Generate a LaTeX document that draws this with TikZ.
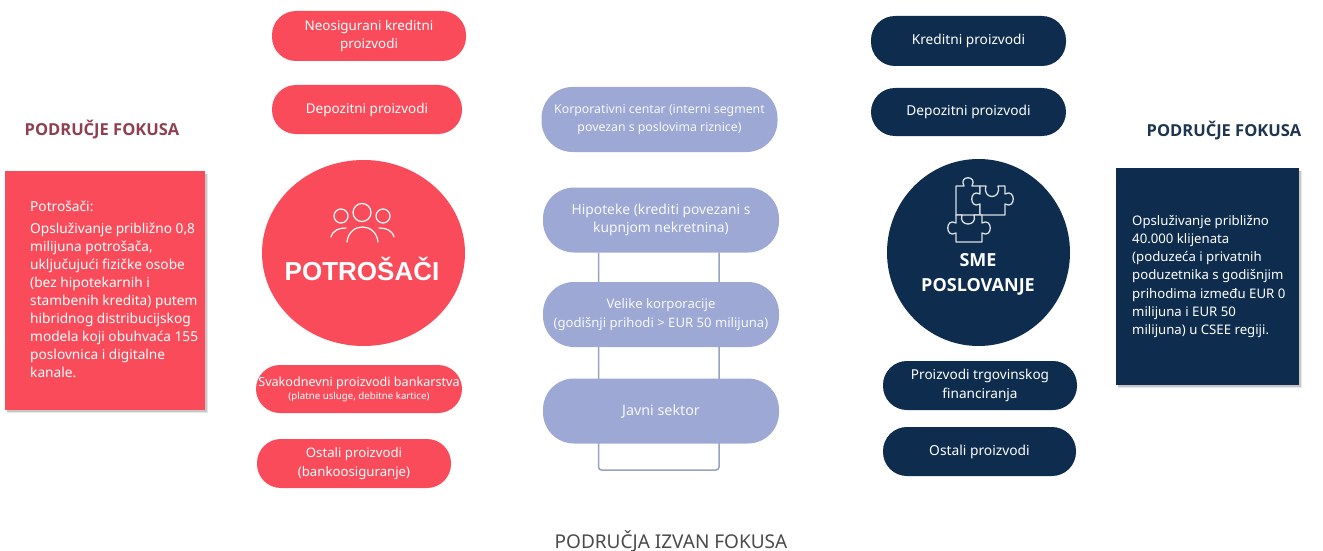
\documentclass[tikz,border=0pt]{standalone}
\usepackage{fontspec}
\setmainfont{Noto Sans}
\newfontfamily\arialfont{Liberation Sans}
\newfontfamily\headfont{Open Sans}
\usetikzlibrary{shapes.geometric}
\definecolor{fokred}{HTML}{F94B5A}
\definecolor{foknavy}{HTML}{0E2D4E}
\definecolor{fokperi}{HTML}{9DA9D4}
\definecolor{titred}{HTML}{8E4050}
\definecolor{titnavy}{HTML}{1E3550}
\definecolor{titgrey}{HTML}{4A4A4A}
\newcommand{\fsz}[1]{\fontsize{#1}{18.5}\selectfont}
\tikzset{
  x=1pt,y=-1pt,
  pilltext/.style={text=white,align=center,inner sep=0pt},
  redpill/.style={pilltext,fill=fokred,rounded corners=24pt,minimum width=#1},
  navypill/.style={pilltext,fill=foknavy,rounded corners=24pt,minimum width=#1},
  peripill/.style={pilltext,fill=fokperi,rounded corners=31pt,minimum width=236pt,minimum height=65pt,text=white!92!fokperi},
  bigcircle/.style={ellipse,inner sep=0pt,text=white,align=center},
  focusbox/.style={inner sep=0pt,minimum width=#1},
  boxtext/.style={text=white,align=left,inner sep=0pt},
  fokustitle/.style={font=\headfont\bfseries\fontsize{16.5}{20}\selectfont,inner sep=0pt},
  frameline/.style={draw=fokperi!80!gray,line width=1.5pt},
  iconline/.style={draw=white,line width=1.2pt,line cap=round},
  puzzleline/.style={draw=white!85!foknavy,line width=1.3pt,fill=foknavy,line join=round}
}
\begin{document}
\begin{tikzpicture}
\useasboundingbox (0,0) rectangle (1323,551);
% titles
\node[fokustitle,text=titred] (tl) at (102,130) {PODRUČJE FOKUSA};
\node[fokustitle,text=titnavy] (tr) at (1224,131) {PODRUČJE FOKUSA};
\node[inner sep=0pt,text=titgrey,font=\fontsize{19}{22}\selectfont] (tb) at (671,541) {PODRUČJA IZVAN FOKUSA};
% shadows and focus boxes
\fill[gray,opacity=.2] (7,174) rectangle (208,413);
\fill[gray,opacity=.3] (7,174) rectangle (206.5,411.5);
\fill[gray,opacity=.2] (1118,171) rectangle (1302,388);
\fill[gray,opacity=.3] (1118,171) rectangle (1300.5,386.5);
\node[focusbox=200pt,minimum height=239pt,fill=fokred] (lbox) at (105,290.5) {};
\node[focusbox=183pt,minimum height=217pt,fill=foknavy] (rbox) at (1207.5,276.5) {};
\node[boxtext,anchor=north west,font=\fontsize{13.7}{18}\selectfont] (ltext) at (30,201) {Potrošači:\\[3.5pt]Opsluživanje približno 0,8\\milijuna potrošača,\\uključujući fizičke osobe\\(bez hipotekarnih i\\stambenih kredita) putem\\hibridnog distribucijskog\\modela koji obuhvaća 155\\poslovnica i digitalne\\kanale.};
\node[boxtext,anchor=north west,font=\fontsize{13.2}{18.2}\selectfont] (rtext) at (1132,215) {Opsluživanje približno\\40.000 klijenata\\(poduzeća i privatnih\\poduzetnika s godišnjim\\prihodima između EUR 0\\milijuna i EUR 50\\milijuna) u CSEE regiji.};
% left column
\node[redpill=194pt,minimum height=50pt,font=\fsz{13.4}] (neo) at (369,36) {Neosigurani kreditni\\proizvodi};
\node[redpill=190pt,minimum height=49pt,font=\fsz{13.5}] (dep) at (367,109.5) {Depozitni proizvodi};
\node[bigcircle,fill=fokred,minimum width=203pt,minimum height=186pt] (pot) at (363.5,253) {};
\node[inner sep=0pt,text=white,font=\arialfont\bfseries\fontsize{26}{30}\selectfont] (potl) at (362,269) {POTROŠAČI};
\node[redpill=206pt,minimum height=48pt,font=\fontsize{12.6}{15}\selectfont] (sva) at (359,389) {Svakodnevni proizvodi bankarstva\\[-2pt]{\fontsize{9.7}{11}\selectfont (platne usluge, debitne kartice)}};
\node[redpill=194pt,minimum height=49pt,font=\fsz{13.2}] (ost) at (354,463.5) {Ostali proizvodi\\(bankoosiguranje)};
% people icon
\draw[iconline] (341,216) circle (7) (362,212.5) circle (9) (383,216) circle (7);
\draw[iconline] (347,242) .. controls (349,222) and (376,222) .. (378,242);
\draw[iconline] (331,237) .. controls (333,230) and (339,228) .. (346,228);
\draw[iconline] (394,237) .. controls (392,230) and (386,228) .. (379,228);
% middle
\coordinate (fl) at (598.5,470);
\coordinate (fr) at (719,470);
\node[peripill,font=\fsz{12.3}] (kor) at (659.5,119.5) {Korporativni centar (interni segment\\povezan s poslovima riznice)};
\node[peripill,font=\fsz{13.8}] (hip) at (661,220) {Hipoteke (krediti povezani s\\kupnjom nekretnina)};
\draw[frameline,rounded corners=3pt] (hip.south -| fl) -- (fl) -- (fr) -- (hip.south -| fr);
\node[peripill,font=\fsz{13.1}] (vel) at (661,314.5) {Velike korporacije\\(godišnji prihodi > EUR 50 milijuna)};
\node[peripill,font=\fsz{14.3}] (jav) at (661,411) {Javni sektor};
% right column
\node[navypill=195pt,minimum height=50pt,font=\fsz{13.7}] (kre) at (968.5,41) {Kreditni proizvodi};
\node[navypill=195pt,minimum height=48pt,font=\fsz{13.7}] (dpr) at (968.5,112) {Depozitni proizvodi};
\node[bigcircle,fill=foknavy,minimum width=183pt,minimum height=187pt] (sme) at (978.5,252.5) {};
\node[inner sep=0pt,text=white,align=center,font=\headfont\bfseries\fontsize{18}{25}\selectfont] (smel) at (978,274.5) {SME\\POSLOVANJE};
\node[navypill=194pt,minimum height=49pt,font=\fsz{13.6}] (trg) at (980,385.5) {Proizvodi trgovinskog\\financiranja};
\node[navypill=193pt,minimum height=49pt,font=\fsz{13.8}] (osr) at (979.5,451.5) {Ostali proizvodi};
% puzzle icon
\draw[puzzleline] (956,215) -- (956,186) -- (964,186) .. controls (958,175) and (978,175) .. (972,186) -- (980,186) -- (980,215) -- cycle;
\draw[puzzleline] (980,186) -- (986,186) .. controls (982,200) and (1002,200) .. (998,186) -- (1005,186) -- (1005,194) .. controls (1016,188) and (1016,210) .. (1005,204) -- (1005,215) -- (980,215) -- (980,204) .. controls (969,210) and (969,188) .. (980,194) -- cycle;
\draw[puzzleline] (956,215) -- (962,215) .. controls (958,227) and (978,227) .. (974,215) -- (982,215) -- (982,223) .. controls (993,217) and (993,239) .. (982,233) -- (982,242) -- (956,242) -- (956,233) .. controls (945,239) and (945,217) .. (956,223) -- cycle;
\end{tikzpicture}
\end{document}
